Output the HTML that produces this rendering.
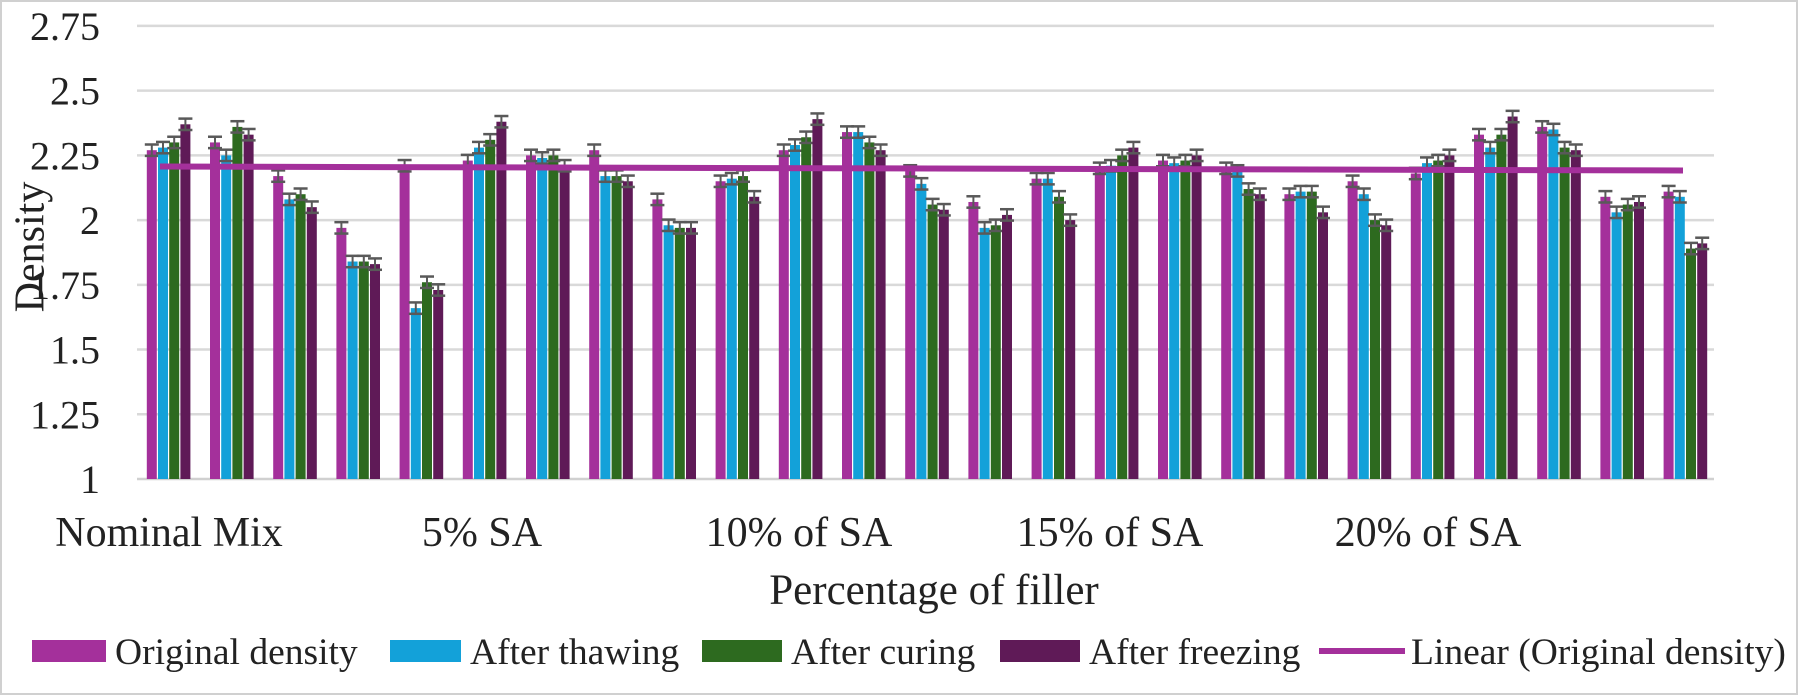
<!DOCTYPE html>
<html><head><meta charset="utf-8"><style>
html,body{margin:0;padding:0;background:#fff}
svg{display:block}
text{font-family:"Liberation Serif",serif;fill:#222}
</style></head><body>
<svg id="c" width="1798" height="695" viewBox="0 0 1798 695" xmlns="http://www.w3.org/2000/svg">
<rect x="1" y="1" width="1796" height="693" fill="#fff" stroke="#d0d0d0" stroke-width="2"/>
<g id="grid"></g>
<g id="bars"></g>
<line x1="160" y1="166.5" x2="1683" y2="170.5" stroke="#a4309b" stroke-width="6"/>
<g font-size="40" text-anchor="end" id="yt"></g>
<text x="34" y="247" font-size="42" text-anchor="middle" transform="rotate(-90 34 247)" dominant-baseline="middle">Density</text>
<g font-size="42" text-anchor="middle">
<text x="169" y="546">Nominal Mix</text>
<text x="482" y="546">5% SA</text>
<text x="799" y="546">10% of SA</text>
<text x="1110" y="546">15% of SA</text>
<text x="1428" y="546">20% of SA</text>
<text x="934" y="604" font-size="43">Percentage of filler</text>
</g>
<g font-size="37.5">
<rect x="32" y="640" width="74" height="22" fill="#a4309b"/><text x="115" y="664">Original density</text>
<rect x="390" y="640" width="71" height="22" fill="#13a1d9"/><text x="470" y="664">After thawing</text>
<rect x="702" y="640" width="80" height="22" fill="#2d6a1f"/><text x="791" y="664">After curing</text>
<rect x="1000" y="640" width="80" height="22" fill="#5f1a57"/><text x="1089" y="664">After freezing</text>
<line x1="1319" y1="651" x2="1405" y2="651" stroke="#a4309b" stroke-width="6"/><text x="1411" y="664">Linear (Original density)</text>
</g>
</svg>
<script>
var NS="http://www.w3.org/2000/svg";
function el(t,a,p){var e=document.createElementNS(NS,t);for(var k in a)e.setAttribute(k,a[k]);p.appendChild(e);return e;}
function Y(v){return 479-(v-1)*258.9;}
var g=document.getElementById('grid'),yt=document.getElementById('yt');
var labs=["1","1.25","1.5","1.75","2","2.25","2.5","2.75"];
for(var i=0;i<8;i++){var y=Y(1+i*0.25);el('line',{x1:137,y1:y,x2:1714,y2:y,stroke:i==0?'#d0d0d0':'#d9d9d9','stroke-width':2.5},g);
var t=el('text',{x:100,y:y+14},yt);t.textContent=labs[i];}
var d=[[2.27,2.28,2.30,2.37],[2.30,2.25,2.36,2.33],[2.17,2.08,2.10,2.05],[1.97,1.84,1.84,1.83],[2.21,1.66,1.76,1.73],
[2.23,2.28,2.31,2.38],[2.25,2.24,2.25,2.21],[2.27,2.17,2.17,2.15],[2.08,1.98,1.97,1.97],[2.15,2.16,2.17,2.09],
[2.27,2.29,2.32,2.39],[2.34,2.34,2.30,2.27],[2.19,2.14,2.06,2.04],[2.07,1.97,1.98,2.02],[2.16,2.16,2.09,2.00],
[2.20,2.21,2.25,2.28],[2.23,2.22,2.23,2.25],[2.20,2.19,2.12,2.10],[2.10,2.11,2.11,2.03],[2.15,2.10,2.00,1.98],
[2.18,2.22,2.23,2.25],[2.33,2.28,2.33,2.40],[2.36,2.35,2.28,2.27],[2.09,2.03,2.06,2.07],[2.11,2.09,1.89,1.91]];
var col=["#a4309b","#13a1d9","#2d6a1f","#5f1a57"],off=[-16.8,-5.6,5.6,16.8];
var b=document.getElementById('bars');
for(var i=0;i<25;i++){var cx=137+63.2*(i+0.5);
for(var j=0;j<4;j++){var v=d[i][j],x=cx+off[j],y=Y(v);
el('rect',{x:x-5,y:y,width:10,height:479-y,fill:col[j]},b);
var e=0.022*258.9;
el('line',{x1:x,y1:y-e,x2:x,y2:y+e,stroke:'#595959','stroke-width':2},b);
el('line',{x1:x-7,y1:y-e,x2:x+7,y2:y-e,stroke:'#595959','stroke-width':2.5},b);
el('line',{x1:x-7,y1:y+e,x2:x+7,y2:y+e,stroke:'#595959','stroke-width':2.5},b);}}
</script>
</body></html>
